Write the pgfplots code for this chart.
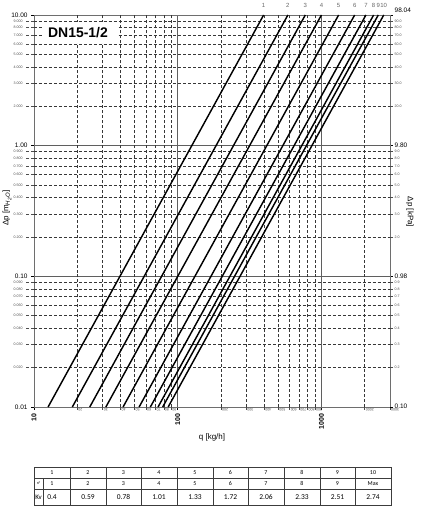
\documentclass[border=0pt]{standalone}
\usepackage{pgfplots}
\pgfplotsset{compat=1.18}
\usepackage{fontspec}
\setmainfont{Liberation Sans}
\newfontfamily\tablefont{Carlito}
\definecolor{axisgray}{RGB}{110,110,110}
\definecolor{gridgray}{RGB}{55,55,55}
\definecolor{tablegray}{RGB}{60,60,60}
\newcommand{\tinyfont}{\fontsize{3.6}{4}\selectfont}
\tikzset{
  kvline/.style={black, line width=1.45pt},
  toplab/.style={pos=1, anchor=south, yshift=7bp, inner sep=0pt, font=\fontsize{6}{6}\selectfont, text=black!60},
}
\begin{document}
\begin{tikzpicture}
\useasboundingbox (0,0) rectangle (422bp,508bp);
\begin{axis}[
  at={(34bp,101bp)}, anchor=south west,
  scale only axis, width=356bp, height=392bp,
  xmode=log, ymode=log,
  xmin=10, xmax=3000, ymin=0.01, ymax=10,
  tick align=outside,
  axis line style={axisgray, line width=0.9pt},
  xtick={10,100,1000}, xticklabels={10,100,1000},
  xticklabel style={rotate=90, anchor=east, font=\bfseries\fontsize{7}{8}\selectfont},
  extra x ticks={20,30,40,50,60,70,80,90,200,300,400,500,600,700,800,900,2000,3000},
  extra x tick labels={20,30,40,50,60,70,80,90,200,300,400,500,600,700,800,900,2000,3000},
  extra x tick style={grid=major, major grid style={densely dashed, gridgray, line width=0.45pt},
    tick style={densely dashed, black!70},
    xticklabel style={font=\tinyfont, text=black!70, rotate=90, anchor=east, inner sep=1bp}},
  ytick={0.01,0.1,1,10}, yticklabels={0.01,0.10,1.00,10.00},
  yticklabel style={font=\fontsize{6.5}{7}\selectfont},
  extra y ticks={0.02,0.03,0.04,0.05,0.06,0.07,0.08,0.09,0.2,0.3,0.4,0.5,0.6,0.7,0.8,0.9,2,3,4,5,6,7,8,9},
  extra y tick labels={0.020,0.030,0.040,0.050,0.060,0.070,0.080,0.090,0.200,0.300,0.400,0.500,0.600,0.700,0.800,0.900,2.000,3.000,4.000,5.000,6.000,7.000,8.000,9.000},
  extra y tick style={grid=major, major grid style={densely dashed, gridgray, line width=0.45pt},
    major tick length=8bp, tick style={densely dashed, black!70},
    yticklabel style={font=\tinyfont, text=black!70}},
  grid=major, major grid style={gridgray!80, line width=0.6pt},
  xtick pos=bottom, ytick pos=left,
  major tick length=3bp,
  tick style={black, line width=0.5pt},
  clip=false,
]
\addplot[kvline] coordinates {(12.53,0.01) (396.1,10)} node[toplab] {1};
\addplot[kvline] coordinates {(18.48,0.01) (584.3,10)} node[toplab] {2};
\addplot[kvline] coordinates {(24.43,0.01) (772.4,10)} node[toplab] {3};
\addplot[kvline] coordinates {(31.63,0.01) (1000.2,10)} node[toplab] {4};
\addplot[kvline] coordinates {(41.65,0.01) (1317.1,10)} node[toplab] {5};
\addplot[kvline] coordinates {(53.87,0.01) (1703.3,10)} node[toplab] {6};
\addplot[kvline] coordinates {(64.51,0.01) (2040.0,10)} node[toplab] {7};
\addplot[kvline] coordinates {(72.97,0.01) (2307.4,10)} node[toplab] {8};
\addplot[kvline] coordinates {(78.61,0.01) (2485.7,10)} node[toplab] {9};
\addplot[kvline] coordinates {(85.81,0.01) (2713.4,10)} node[toplab] {10};
\end{axis}
\begin{axis}[
  at={(34bp,101bp)}, anchor=south west,
  scale only axis, width=356bp, height=392bp,
  xmode=log, ymode=log,
  xmin=10, xmax=3000, ymin=0.01, ymax=10,
  tick align=outside,
  hide x axis, axis y line*=right,
  axis line style={axisgray, line width=0.9pt},
  ytick={0.01,0.1,1,10}, yticklabels={\raisebox{1.5bp}{0.10},0.98,9.80,\raisebox{9bp}{98.04}},
  yticklabel style={font=\fontsize{6.5}{7}\selectfont, inner sep=1.5bp},
  extra y ticks={0.02,0.03,0.04,0.05,0.06,0.07,0.08,0.09,0.2,0.3,0.4,0.5,0.6,0.7,0.8,0.9,2,3,4,5,6,7,8,9},
  extra y tick labels={0.2,0.3,0.4,0.5,0.6,0.7,0.8,0.9,2.0,3.0,4.0,5.0,6.0,7.0,8.0,9.0,20.0,30.0,40.0,50.0,60.0,70.0,80.0,90.0},
  extra y tick style={tick style={densely dashed, black!70},
    yticklabel style={font=\tinyfont, text=black!70}},
  major tick length=3bp,
  tick style={black, line width=0.5pt},
]
\addplot[draw=none] coordinates {(10,0.01) (3000,10)};
\end{axis}
\begin{scope}[x=1bp,y=1bp]
  \node[fill=white, minimum width=75bp, minimum height=21bp, inner sep=0pt] at (80.5,475.5) {};
  \node[font=\bfseries\fontsize{14}{14}\selectfont, inner sep=0pt] at (78,475.5) {DN15-1/2};
  \node[rotate=90, font=\fontsize{8}{8}\selectfont] at (7,300) {Δp [m\textsubscript{\textit{H\textsubscript{2}O}}]};
  \node[rotate=-90, font=\fontsize{8}{8}\selectfont] at (410,296) {Δp [kPa]};
  \node[font=\fontsize{8}{8}\selectfont] at (212,71) {q [kg/h]};
  \draw[tablegray, line width=0.5pt] (34,3) rectangle (391,41);
  \draw[tablegray, line width=0.5pt] (34,30) -- (391,30) (34,19) -- (391,19) (43,3) -- (43,30);
  \foreach \x in {70,106,141,177,213,248,284,320,355}
    \draw[tablegray, line width=0.5pt] (\x,3) -- (\x,41);
  \foreach \x/\a/\b/\c in {52/1/1/0.4, 88/2/2/0.59, 123.5/3/3/0.78, 159/4/4/1.01, 195/5/5/1.33, 230.5/6/6/1.72, 266/7/7/2.06, 302/8/8/2.33, 337.5/9/9/2.51, 373/10/Max/2.74} {
    \node[font=\tablefont\fontsize{6}{6}\selectfont] at (\x,35.5) {\a};
    \node[font=\tablefont\fontsize{6}{6}\selectfont] at (\x,24.5) {\b};
    \node[font=\tablefont\fontsize{7.5}{8}\selectfont] at (\x,11) {\c};
  }
  \node[font=\tablefont\fontsize{4}{4}\selectfont] at (38.5,24.5) {n°};
  \node[font=\tablefont\fontsize{7}{7}\selectfont] at (38.5,11) {Kv};
\end{scope}
\end{tikzpicture}
\end{document}
